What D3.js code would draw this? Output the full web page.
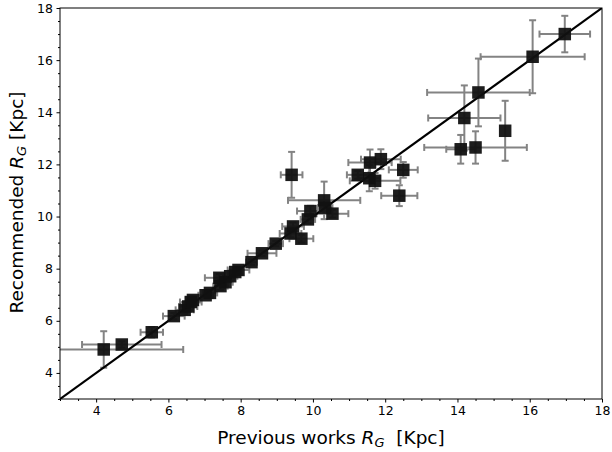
<!DOCTYPE html>
<html>
<head>
<meta charset="utf-8">
<script src="https://cdn.jsdelivr.net/npm/d3@7"></script>
<style>
  body { margin: 0; background: #fff; }
  svg text { font-family: "DejaVu Sans", sans-serif; }
</style>
</head>
<body>
<div id="chart"></div>
<script>
// previous works R_G, recommended R_G and their errors (Kpc)
var prevRG = [4.21, 4.71, 5.54, 6.15, 6.45, 6.55, 6.62, 6.68, 7.03, 7.15, 7.41, 7.44, 7.58, 7.71, 7.85, 7.94,
  8.30, 8.59, 8.97, 9.38, 9.45, 9.68, 9.86, 9.93, 9.41, 10.31, 10.34, 10.54, 11.24, 11.58, 11.88, 11.56,
  11.72, 12.50, 12.39, 14.09, 14.50, 15.32, 14.19, 14.58, 16.08, 16.97];
var recRG = [4.90, 5.09, 5.56, 6.18, 6.42, 6.55, 6.72, 6.80, 6.98, 7.07, 7.65, 7.33, 7.48, 7.71, 7.87, 7.95,
  8.25, 8.59, 8.96, 9.35, 9.62, 9.15, 9.89, 10.21, 11.60, 10.62, 10.34, 10.11, 11.60, 12.07, 12.20, 11.47,
  11.37, 11.79, 10.80, 12.58, 12.65, 13.29, 13.78, 14.76, 16.13, 17.00];
var prevErr = [2.2, 1.1, 0.31, 0.3, 0.25, 0.25, 0.3, 0.2, 0.2, 0.2, 0.4, 0.2, 0.2, 0.2, 0.2, 0.3,
  0.15, 0.4, 0.2, 0.3, 0.3, 0.33, 0.2, 0.37, 0.3, 1.0, 0.2, 0.44, 0.3, 0.6, 0.55, 0.3,
  0.7, 0.4, 0.5, 0.4, 1.42, 0, 1.0, 1.42, 1.44, 0.7];
var recErr = [0.7, 0.12, 0.2, 0.12, 0.15, 0.2, 0.15, 0.15, 0.1, 0.1, 0.15, 0.15, 0.15, 0.1, 0.1, 0.1,
  0.1, 0.1, 0.1, 0.15, 0.15, 0.15, 0.15, 0.2, 0.88, 0.72, 0.15, 0.15, 0.15, 0.5, 0.38, 0.5,
  0.3, 0.3, 0.4, 0.55, 0.62, 1.15, 1.25, 1.3, 1.4, 0.7];

var majorTicks = [4, 6, 8, 10, 12, 14, 16, 18];
var domain = [3, 18];

var width = 612, height = 452;
var margin = {top: 8, right: 10, bottom: 53, left: 60};
var w = width - margin.left - margin.right,
    h = height - margin.top - margin.bottom;

var data = prevRG.map(function(d, i) {
  return {x: d, y: recRG[i], xe: prevErr[i], ye: recErr[i]};
});

var x = d3.scaleLinear().domain(domain).range([0, w]);
var y = d3.scaleLinear().domain(domain).range([h, 0]);

var svg = d3.select("#chart").append("svg")
  .attr("width", width)
  .attr("height", height);

var g = svg.append("g")
  .attr("transform", "translate(" + margin.left + "," + margin.top + ")");

g.append("clipPath").attr("id", "clip")
  .append("rect").attr("width", w).attr("height", h);

var minor = d3.range(3, 18.01, 0.5).filter(function(v) { return majorTicks.indexOf(v) < 0; });

// axes: major + minor ticks
function styleAxis(sel) {
  sel.select(".domain").remove();
  sel.selectAll("text").style("font-size", "12.5px").attr("fill", "#000");
  sel.selectAll("line").attr("stroke", "#000");
}

g.append("g").attr("transform", "translate(0," + h + ")")
  .call(d3.axisBottom(x).tickValues(minor).tickSize(2).tickFormat(""))
  .call(styleAxis);
g.append("g").attr("transform", "translate(0," + h + ")")
  .call(d3.axisBottom(x).tickValues(majorTicks).tickSize(3.5).tickPadding(3.5).tickFormat(d3.format("d")))
  .call(styleAxis);
g.append("g")
  .call(d3.axisLeft(y).tickValues(minor).tickSize(2).tickFormat(""))
  .call(styleAxis);
g.append("g")
  .call(d3.axisLeft(y).tickValues(majorTicks).tickSize(3.5).tickPadding(3.5).tickFormat(d3.format("d")))
  .call(styleAxis);

var plot = g.append("g").attr("clip-path", "url(#clip)");

// error bars
var cap = 3.5, grey = "#838383";
var eb = plot.append("g").attr("stroke", grey).attr("stroke-width", 2).attr("fill", "none");
data.forEach(function(d) {
  if (d.xe > 0) {
    eb.append("line").attr("x1", x(d.x - d.xe)).attr("x2", x(d.x + d.xe))
      .attr("y1", y(d.y)).attr("y2", y(d.y));
    [d.x - d.xe, d.x + d.xe].forEach(function(v) {
      eb.append("line").attr("x1", x(v)).attr("x2", x(v))
        .attr("y1", y(d.y) - cap).attr("y2", y(d.y) + cap);
    });
  }
  if (d.ye > 0) {
    eb.append("line").attr("x1", x(d.x)).attr("x2", x(d.x))
      .attr("y1", y(d.y - d.ye)).attr("y2", y(d.y + d.ye));
    [d.y - d.ye, d.y + d.ye].forEach(function(v) {
      eb.append("line").attr("y1", y(v)).attr("y2", y(v))
        .attr("x1", x(d.x) - cap).attr("x2", x(d.x) + cap);
    });
  }
});

// one-to-one line
plot.append("line")
  .attr("x1", x(3)).attr("y1", y(3))
  .attr("x2", x(18)).attr("y2", y(18))
  .attr("stroke", "#000").attr("stroke-width", 2.2);

// square markers
var s = 12.5;
plot.selectAll("rect.pt")
  .data(data)
  .enter().append("rect")
  .attr("class", "pt")
  .attr("x", function(d) { return x(d.x) - s / 2; })
  .attr("y", function(d) { return y(d.y) - s / 2; })
  .attr("width", s).attr("height", s)
  .attr("fill", "#111111")
  .attr("fill-opacity", 0.95);

// frame
g.append("rect").attr("width", w).attr("height", h)
  .attr("fill", "none").attr("stroke", "#000").attr("stroke-width", 1);

// axis labels
var xl = svg.append("text")
  .attr("x", margin.left + w / 2)
  .attr("y", 444)
  .attr("text-anchor", "middle")
  .style("font-size", "18.5px");
xl.append("tspan").text("Previous works ");
xl.append("tspan").style("font-style", "italic").text("R");
xl.append("tspan").style("font-style", "italic").style("font-size", "13px").attr("dy", 3).text("G");
xl.append("tspan").attr("dy", -3).text("\u00a0 [Kpc]");

var yl = svg.append("text")
  .attr("transform", "translate(23," + (margin.top + h / 2 - 1) + ") rotate(-90)")
  .attr("text-anchor", "middle")
  .style("font-size", "18.5px");
yl.append("tspan").text("Recommended ");
yl.append("tspan").style("font-style", "italic").text("R");
yl.append("tspan").style("font-style", "italic").style("font-size", "13px").attr("dy", 3).text("G");
yl.append("tspan").attr("dy", -3).text(" [Kpc]");
</script>
</body>
</html>
